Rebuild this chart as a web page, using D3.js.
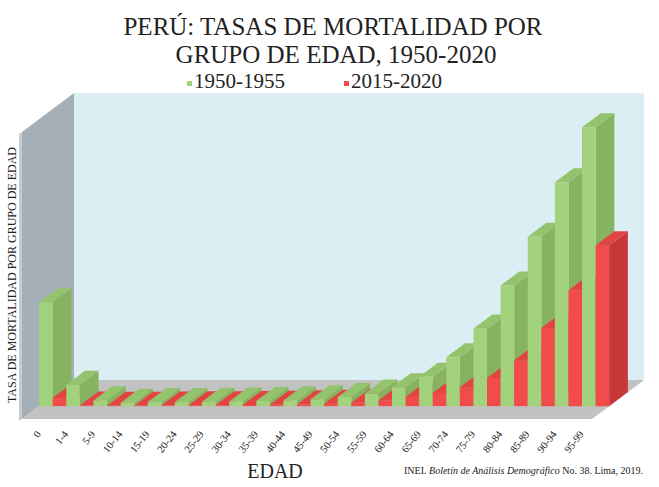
<!DOCTYPE html>
<html>
<head>
<meta charset="utf-8">
<style>
  body { margin: 0; background: #fff; }
  text { font-family: "Liberation Serif", "Times New Roman", serif; fill: #222; }
</style>
<title>Perú: tasas de mortalidad por grupo de edad</title>
</head>
<body>
<script src="https://cdn.jsdelivr.net/npm/d3@7"></script>
<script>

// age groups and death rates (per 1000)
var categories = ["0", "1-4", "5-9", "10-14", "15-19", "20-24", "25-29", "30-34", "35-39",
    "40-44", "45-49", "50-54", "55-59", "60-64", "65-69", "70-74", "75-79", "80-84",
    "85-89", "90-94", "95-99"];
var seriesNames = ["1950-1955", "2015-2020"];
var rates1950 = [181, 37, 10, 6, 7, 7, 7.5, 8, 9, 10, 12, 16, 22, 33, 51, 85, 135, 210, 295, 390, 486];
var rates2015 = [14, 1.2, 0.6, 0.6, 1, 1.3, 1.5, 2, 2.5, 3, 4, 6, 10, 16, 23, 33, 49, 80, 136, 202, 280];

var width = 659, height = 487;
var DX = 52, DY = -39;        // projection of the full depth
var d0 = 0.33, d1 = 0.69;     // depth of the bars (front, back)

var colors = {
    "1950-1955": {front: "#a3d27c", side: "#87b260", top: "#93c36c"},
    "2015-2020": {front: "#f24b4b", side: "#c7383a", top: "#e24343"}
};

var svg = d3.select("body").append("svg")
    .attr("width", width)
    .attr("height", height);

var x = d3.scaleBand()
    .domain(categories)
    .range([22, 592])
    .padding(0);

var x1 = d3.scaleBand()
    .domain(seriesNames)
    .range([0, x.bandwidth()])
    .padding(0);

var y = d3.scaleLinear()
    .domain([0, 500])
    .range([419, 132]);

// front-plane point pushed back by depth d
function P(px, py, d) {
    return [px + d * DX, py + d * DY];
}
function poly(pts) {
    return pts.map(function(p) { return p[0].toFixed(2) + "," + p[1].toFixed(2); }).join(" ");
}

var r0 = x.range()[0], r1 = x.range()[1];
var yTop = y(y.domain()[1]), yBase = y(0);

// walls and floor
svg.append("polygon")
    .attr("points", poly([P(r0, yTop, 1), P(r1, yTop, 1), P(r1, yBase, 1), P(r0, yBase, 1)]))
    .attr("fill", "#daeef4");
svg.append("polygon")
    .attr("points", poly([P(r0, yTop, 0), P(r0, yTop, 1), P(r0, yBase, 1), P(r0, yBase, 0)]))
    .attr("fill", "#a5afb7");
// thin lighter edge of the side wall
svg.append("polygon")
    .attr("points", poly([P(r0 - 3, yTop + 2, 0), P(r0, yTop, 0), P(r0, yBase, 0), P(r0 - 3, yBase + 2, 0)]))
    .attr("fill", "#c4ccd2");
svg.append("polygon")
    .attr("points", poly([P(r0, yBase, 0), P(r0, yBase, 1), P(r1, yBase, 1), P(r1, yBase, 0)]))
    .attr("fill", "#c2c2c2");

// bars, left to right so each front face hides the previous side face
var bars = [];
categories.forEach(function(c, i) {
    bars.push({cat: c, series: seriesNames[0], value: rates1950[i]});
    bars.push({cat: c, series: seriesNames[1], value: rates2015[i]});
});

var g = svg.selectAll(".bar")
    .data(bars)
    .enter().append("g")
    .attr("class", "bar");

function corners(d) {
    var xl = x(d.cat) + x1(d.series), xr = xl + x1.bandwidth();
    return {xl: xl, xr: xr, yt: y(d.value), yb: yBase};
}

g.append("polygon")
    .attr("points", function(d) {
        var k = corners(d);
        return poly([P(k.xr, k.yt, d0), P(k.xr, k.yt, d1), P(k.xr, k.yb, d1), P(k.xr, k.yb, d0)]);
    })
    .attr("fill", function(d) { return colors[d.series].side; });

g.append("polygon")
    .attr("points", function(d) {
        var k = corners(d);
        return poly([P(k.xl, k.yt, d0), P(k.xl, k.yt, d1), P(k.xr, k.yt, d1), P(k.xr, k.yt, d0)]);
    })
    .attr("fill", function(d) { return colors[d.series].top; });

g.append("polygon")
    .attr("points", function(d) {
        var k = corners(d);
        return poly([P(k.xl, k.yt, d0), P(k.xr, k.yt, d0), P(k.xr, k.yb, d0), P(k.xl, k.yb, d0)]);
    })
    .attr("fill", function(d) { return colors[d.series].front; });

// x axis labels (no line, no ticks)
var xAxis = d3.axisBottom(x).tickSize(0).tickPadding(0);
var ax = svg.append("g")
    .attr("transform", "translate(3," + (yBase + 13) + ")")
    .call(xAxis);
ax.select(".domain").remove();
ax.selectAll("text")
    .style("font-family", "Liberation Serif")
    .style("font-size", "10.5px")
    .style("fill", "#222")
    .attr("text-anchor", "end")
    .attr("dy", "0.35em")
    .attr("transform", "rotate(-52)");

// titles
svg.append("text")
    .attr("x", 333).attr("y", 35)
    .attr("text-anchor", "middle")
    .style("font-size", "25px")
    .text("PERÚ: TASAS DE MORTALIDAD POR");
svg.append("text")
    .attr("x", 336).attr("y", 63)
    .attr("text-anchor", "middle")
    .style("font-size", "25px")
    .text("GRUPO DE EDAD, 1950-2020");

// legend
var legend = svg.selectAll(".legend")
    .data(seriesNames)
    .enter().append("g")
    .attr("class", "legend")
    .attr("transform", function(d, i) { return "translate(" + (187 + i * 157) + ",88)"; });
legend.append("rect")
    .attr("x", 0).attr("y", -7)
    .attr("width", 5).attr("height", 5)
    .attr("fill", function(d) { return colors[d].front; });
legend.append("text")
    .attr("x", 7)
    .style("font-size", "21px")
    .text(function(d) { return d; });

// axis titles
svg.append("text")
    .attr("transform", "translate(16,275) rotate(-90)")
    .attr("text-anchor", "middle")
    .style("font-size", "12px")
    .text("TASA DE MORTALIDAD POR GRUPO DE EDAD");

svg.append("text")
    .attr("x", 275).attr("y", 478)
    .attr("text-anchor", "middle")
    .style("font-size", "20px")
    .text("EDAD");

// source note
var note = svg.append("text")
    .attr("x", 643).attr("y", 474)
    .attr("text-anchor", "end")
    .style("font-size", "10px");
note.append("tspan").text("INEI. ");
note.append("tspan").style("font-style", "italic").text("Boletín de Análisis Demográfico");
note.append("tspan").text(" No. 38. Lima, 2019.");

</script>
</body>
</html>
